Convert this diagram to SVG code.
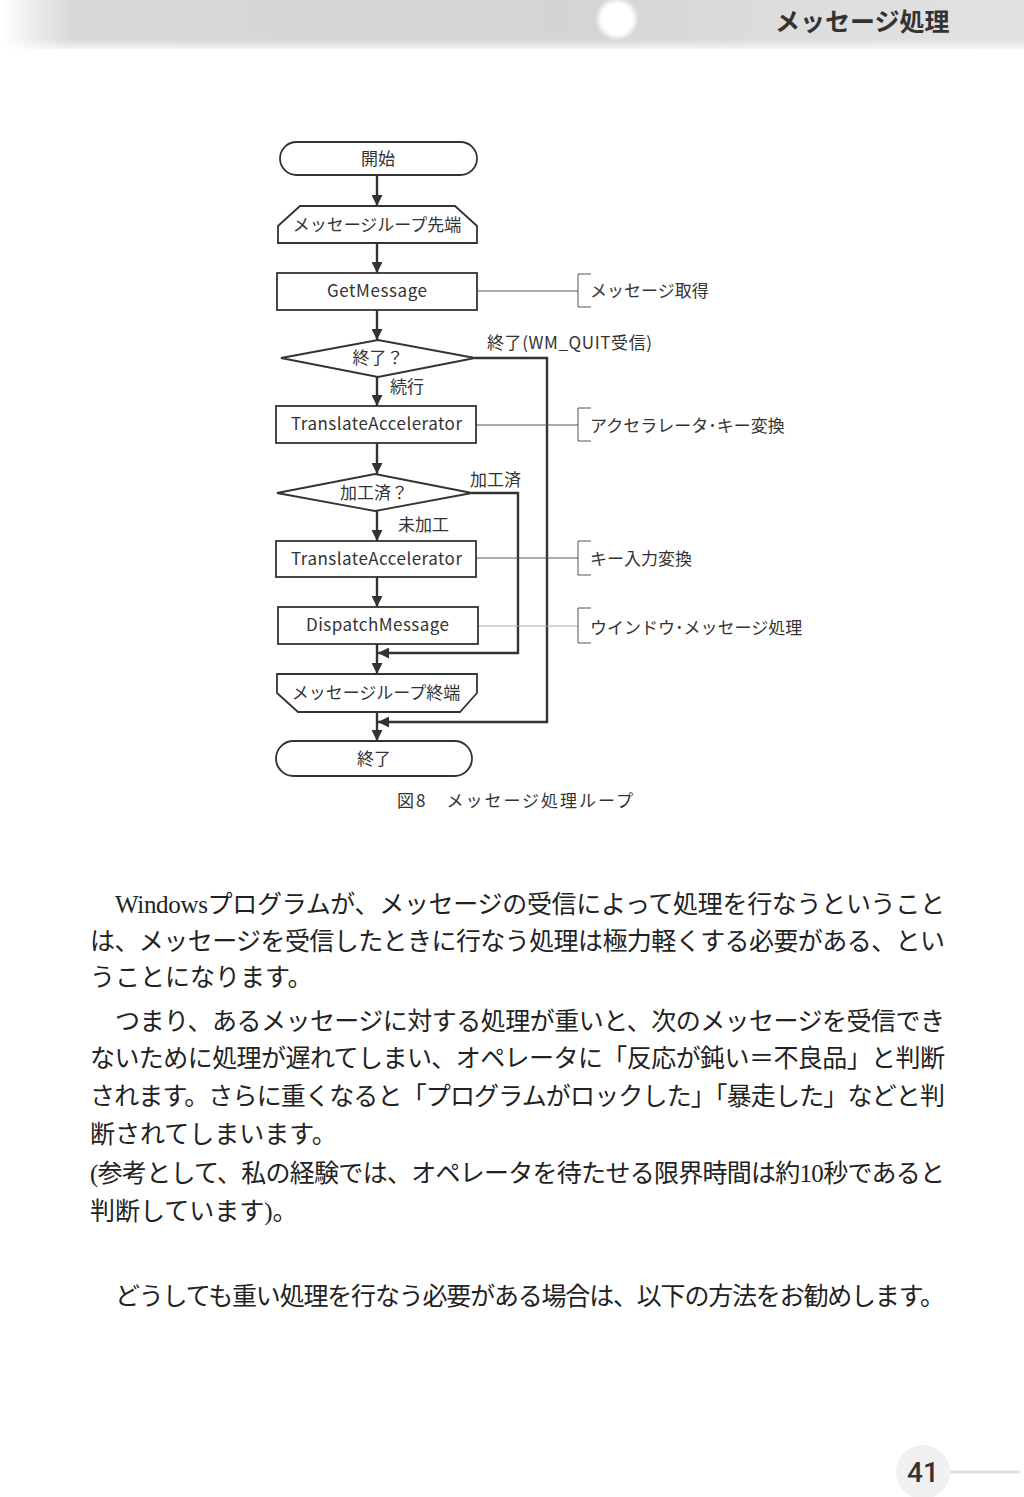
<svg xmlns="http://www.w3.org/2000/svg" width="1024" height="1497" viewBox="0 0 1024 1497">
<defs>
<linearGradient id="band" x1="0" y1="0" x2="1" y2="0">
<stop offset="0" stop-color="#ffffff"/>
<stop offset="0.07" stop-color="#d8d8d8"/>
<stop offset="0.55" stop-color="#d4d4d4"/>
<stop offset="0.75" stop-color="#dcdcdc"/>
<stop offset="1" stop-color="#e2e2e2"/>
</linearGradient>
<linearGradient id="bandV" x1="0" y1="0" x2="0" y2="1">
<stop offset="0" stop-color="#ffffff" stop-opacity="0"/>
<stop offset="0.8" stop-color="#ffffff" stop-opacity="0"/>
<stop offset="1" stop-color="#ffffff" stop-opacity="0.7"/>
</linearGradient>
<radialGradient id="blob">
<stop offset="0" stop-color="#ffffff"/>
<stop offset="0.7" stop-color="#ffffff"/>
<stop offset="1" stop-color="#ffffff" stop-opacity="0"/>
</radialGradient>
<marker id="arr" viewBox="0 0 10 10" refX="10" refY="5" markerWidth="11" markerHeight="11" markerUnits="userSpaceOnUse" orient="auto">
<path d="M0,0 L10,5 L0,10 z" fill="#333"/>
</marker>
<style>
.shape{fill:#fff;stroke:#333;stroke-width:1.8}
.flow{fill:none;stroke:#333;stroke-width:2.4}
.thin{fill:none;stroke:#555;stroke-width:1}
.faint{fill:none;stroke:#aaa;stroke-width:1}
.t{font-family:"Noto Sans CJK JP","Noto Sans",sans-serif;font-size:17px;fill:#333}
.c{text-anchor:middle}
.body{font-family:"Liberation Serif","Noto Sans CJK JP",serif;font-size:25px;fill:#222}
.hdr{font-family:"Noto Sans CJK JP",sans-serif;font-size:25px;font-weight:bold;fill:#333}
</style>
</defs>

<g id="header">
<rect x="0" y="0" width="1024" height="49" fill="url(#band)"/>
<rect x="0" y="0" width="1024" height="49" fill="url(#bandV)"/>
<circle cx="617" cy="19" r="22" fill="url(#blob)"/>
<text class="hdr" x="775" y="31">メッセージ処理</text>
</g>

<g id="connectors">
<path class="flow" d="M377,175 V206" marker-end="url(#arr)"/>
<path class="flow" d="M377,243 V273" marker-end="url(#arr)"/>
<path class="flow" d="M377,310 V340" marker-end="url(#arr)"/>
<path class="flow" d="M377,377 V406" marker-end="url(#arr)"/>
<path class="flow" d="M377,443 V474" marker-end="url(#arr)"/>
<path class="flow" d="M377,511 V541" marker-end="url(#arr)"/>
<path class="flow" d="M377,577 V607" marker-end="url(#arr)"/>
<path class="flow" d="M377,644 V674" marker-end="url(#arr)"/>
<path class="flow" d="M377,712 V741" marker-end="url(#arr)"/>
<path class="flow" d="M475,358 H547 V722 H378" marker-end="url(#arr)"/>
<path class="flow" d="M472,493 H518 V653 H378" marker-end="url(#arr)"/>
<path class="thin" d="M477,291 H578"/>
<path class="thin" d="M476,425 H578"/>
<path class="thin" d="M476,558 H578"/>
<path class="faint" d="M478,626 H578"/>
</g>

<g id="start">
<rect class="shape" x="280" y="142" width="197" height="33" rx="16.5"/>
<text class="t c" x="378" y="165">開始</text>
</g>
<g id="loopstart">
<polygon class="shape" points="278,243 278,226 300,206 455,206 477,226 477,243"/>
<text class="t c" x="377" y="231">メッセージループ先端</text>
</g>
<g id="getmessage">
<rect class="shape" x="277" y="273" width="200" height="37"/>
<text class="t" x="327" y="297" textLength="100" lengthAdjust="spacing">GetMessage</text>
</g>
<g id="note-getmessage">
<path class="thin" d="M591,274 H578 V307 H591"/>
<text class="t" x="590" y="296.5">メッセージ取得</text>
</g>
<g id="decision-end">
<polygon class="shape" points="281,358 378,340 475,358 378,377"/>
<text class="t c" x="378" y="363.5">終了？</text>
<text class="t" x="487" y="348.5" textLength="165" lengthAdjust="spacing">終了(WM_QUIT受信)</text>
<text class="t" x="390" y="392.5">続行</text>
</g>
<g id="translate1">
<rect class="shape" x="276" y="406" width="200" height="37"/>
<text class="t" x="291" y="430" textLength="171" lengthAdjust="spacing">TranslateAccelerator</text>
</g>
<g id="note-translate1">
<path class="thin" d="M591,408 H578 V441 H591"/>
<text class="t" x="590" y="431.5">アクセラレータ･キー変換</text>
</g>
<g id="decision-processed">
<polygon class="shape" points="277,493 375,474 472,493 375,511"/>
<text class="t c" x="374" y="498.5">加工済？</text>
<text class="t" x="470" y="485.5">加工済</text>
<text class="t" x="398" y="530.5">未加工</text>
</g>
<g id="translate2">
<rect class="shape" x="276" y="541" width="200" height="36"/>
<text class="t" x="291" y="564.5" textLength="171" lengthAdjust="spacing">TranslateAccelerator</text>
</g>
<g id="note-translate2">
<path class="thin" d="M591,541 H578 V575 H591"/>
<text class="t" x="590" y="564.5">キー入力変換</text>
</g>
<g id="dispatch">
<rect class="shape" x="278" y="607" width="200" height="37"/>
<text class="t" x="306" y="631" textLength="143" lengthAdjust="spacing">DispatchMessage</text>
</g>
<g id="note-dispatch">
<path class="thin" d="M591,608 H578 V643 H591"/>
<text class="t" x="590" y="633.5">ウインドウ･メッセージ処理</text>
</g>
<g id="loopend">
<polygon class="shape" points="277,674 477,674 477,693 460,712 298,712 277,693"/>
<text class="t c" x="376" y="698.5">メッセージループ終端</text>
</g>
<g id="end">
<rect class="shape" x="276" y="741" width="196" height="35" rx="17.5"/>
<text class="t c" x="374" y="764.5">終了</text>
</g>
<g id="caption">
<text class="t" x="397" y="806.5" textLength="236" lengthAdjust="spacing">図8　メッセージ処理ループ</text>
</g>

<g id="bodytext">
<text class="body" x="115" y="912.5" textLength="830" lengthAdjust="spacing">Windowsプログラムが、メッセージの受信によって処理を行なうということ</text>
<text class="body" x="90" y="949.5" textLength="855" lengthAdjust="spacing">は、メッセージを受信したときに行なう処理は極力軽くする必要がある、とい</text>
<text class="body" x="90" y="985.5">うことになります。</text>
<text class="body" x="115" y="1029.5" textLength="830" lengthAdjust="spacing">つまり、あるメッセージに対する処理が重いと、次のメッセージを受信でき</text>
<text class="body" x="90" y="1066.5" textLength="855" lengthAdjust="spacing">ないために処理が遅れてしまい、オペレータに「反応が鈍い＝不良品」と判断</text>
<text class="body" x="90" y="1104.5" textLength="855" lengthAdjust="spacing">されます。さらに重くなると「プログラムがロックした」「暴走した」などと判</text>
<text class="body" x="90" y="1142.5">断されてしまいます。</text>
<text class="body" x="90" y="1181.5" textLength="855" lengthAdjust="spacing">(参考として、私の経験では、オペレータを待たせる限界時間は約10秒であると</text>
<text class="body" x="90" y="1219.5">判断しています)。</text>
<text class="body" x="115" y="1304.5" textLength="830" lengthAdjust="spacing">どうしても重い処理を行なう必要がある場合は、以下の方法をお勧めします。</text>
</g>

<g id="pagenumber">
<line x1="950" y1="1472" x2="1020" y2="1472" stroke="#e4e4e4" stroke-width="3"/>
<circle cx="923" cy="1472" r="27" fill="#f0f0f0"/>
<text x="923" y="1482" text-anchor="middle" font-family="Roboto, 'Liberation Sans', sans-serif" font-size="28" font-weight="500" fill="#333">41</text>
</g>
</svg>
